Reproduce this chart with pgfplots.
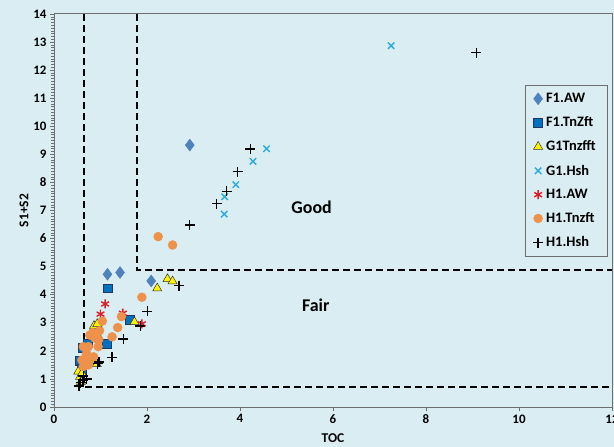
\documentclass[border=0pt]{standalone}
\usepackage{pgfplots}
\pgfplotsset{compat=1.18}
\usepackage{fontspec}
\setmainfont{Carlito}
\definecolor{bg}{RGB}{218,237,242}
\definecolor{cAW}{RGB}{79,129,189}
\definecolor{cTn}{RGB}{0,112,192}
\definecolor{cTnB}{RGB}{31,56,100}
\definecolor{cGH}{RGB}{43,170,222}
\definecolor{cHA}{RGB}{220,30,40}
\definecolor{cHT}{RGB}{237,145,75}
\definecolor{axc}{RGB}{110,110,110}
\begin{document}
\begin{tikzpicture}
\fill[bg] (-54bp,-40bp) rectangle (560bp,407bp);
\begin{axis}[
  at={(0,0)}, anchor=south west,
  scale only axis, width=558bp, height=393bp,
  xmin=0, xmax=12, ymin=0, ymax=14,
  xtick={0,2,...,12}, ytick={0,1,...,14},
  minor y tick num=9,
  tick align=outside,
  major tick length=4bp, minor tick length=3bp,
  xtick pos=bottom, ytick pos=left,
  tick style={axc, line width=0.6pt},
  axis line style={axc, line width=1pt},
  /pgf/number format/assume math mode=true,
  ticklabel style={font=\fontsize{13}{15}\selectfont\bfseries},
  xlabel={TOC}, ylabel={S1+S2},
  label style={font=\fontsize{13.5}{15}\selectfont\bfseries},
  xlabel style={yshift=-3bp},
  ylabel style={yshift=-2bp},
  legend style={at={(0.991,0.819)}, anchor=north east, fill=bg, draw=axc,
    font=\fontsize{14.5}{16}\selectfont\bfseries, row sep=8.6bp,
    inner xsep=8bp, inner ysep=6bp,
    nodes={inner xsep=3bp}},
  legend cell align=left,
]
\addplot[black, line width=2.2bp, dash pattern=on 7bp off 4bp, forget plot] coordinates {(0.65,14)(0.65,0.72)(12,0.72)};
\addplot[black, line width=2.2bp, dash pattern=on 7bp off 4bp, forget plot] coordinates {(1.78,14)(1.78,4.88)(12,4.88)};
\addplot[only marks, mark=diamond*, mark size=6bp, mark options={fill=cAW, draw=cAW}] coordinates {
(2.92,9.33)(1.15,4.73)(1.42,4.79)(2.09,4.49)};
\addlegendentry{F1.AW}
\addplot[only marks, mark=square*, mark size=4.4bp, mark options={fill=cTn, draw=cTnB, line width=0.6pt}] coordinates {
(1.15,4.23)(1.63,3.12)(1.13,2.24)(0.55,1.65)(0.72,2.27)(0.62,2.1)(0.6,1.35)};
\addlegendentry{F1.TnZft}
\addplot[only marks, mark=triangle*, mark size=5.2bp, mark options={fill=yellow, draw=black!80, line width=0.5pt}] coordinates {
(2.44,4.56)(2.55,4.48)(2.22,4.23)(1.73,3.03)(0.86,2.89)(0.93,2.96)(0.52,1.26)(0.56,1.08)(0.92,1.53)(0.58,0.9)(0.96,2.5)(0.6,1.2)};
\addlegendentry{G1Tnzfft}
\addplot[only marks, mark=x, mark size=4.5bp, mark options={draw=cGH, line width=1.4pt}] coordinates {
(7.25,12.87)(4.57,9.2)(4.28,8.75)(3.91,7.92)(3.67,7.49)(3.66,6.87)};
\addlegendentry{G1.Hsh}
\addplot[only marks, mark=asterisk, mark size=4.5bp, mark options={draw=cHA, line width=1.4pt}] coordinates {
(1.10,3.67)(1.00,3.31)(1.48,3.34)(1.89,2.96)};
\addlegendentry{H1.AW}
\addplot[only marks, mark=*, mark size=4.5bp, mark options={fill=cHT, draw=cHT}] coordinates {
(2.24,6.07)(2.55,5.77)(1.89,3.91)(1.45,3.22)(1.37,2.83)(1.25,2.5)(1.04,3.06)(0.98,2.72)(0.96,2.39)(0.95,2.15)(0.77,2.56)(0.83,2.65)(0.74,2.15)(0.63,2.15)(0.70,1.91)(0.60,1.67)(0.77,1.67)(0.74,1.5)(0.85,1.79)(0.63,1.44)(0.88,2.45)(0.68,1.75)};
\addlegendentry{H1.Tnzft}
\addplot[only marks, mark=+, mark size=5bp, mark options={draw=black, line width=1.4pt}] coordinates {
(9.08,12.62)(4.22,9.19)(3.95,8.38)(3.71,7.68)(3.50,7.24)(2.92,6.49)(2.69,4.32)(2.01,3.41)(1.86,2.89)(1.49,2.42)(1.25,1.77)(0.97,1.61)(0.94,1.54)(0.70,1.0)(0.62,0.96)(0.54,0.75)(0.57,0.87)(0.63,1.1)};
\addlegendentry{H1.Hsh}
\node[font=\fontsize{18}{20}\selectfont\bfseries] at (axis cs:5.54,7.11) {Good};
\node[font=\fontsize{18}{20}\selectfont\bfseries] at (axis cs:5.63,3.63) {Fair};
\end{axis}
\pgfresetboundingbox
\path[use as bounding box] (-54bp,-40bp) rectangle (560bp,407bp);
\end{tikzpicture}
\end{document}
